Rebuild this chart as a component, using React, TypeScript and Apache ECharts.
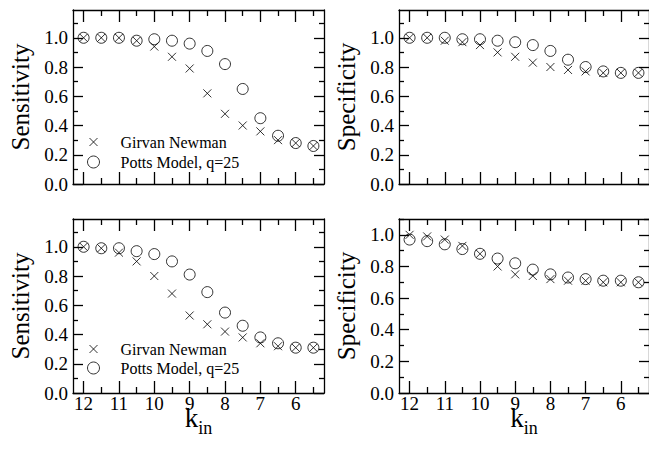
import React, { useEffect, useRef } from 'react';
import * as echarts from 'echarts';

// k_in values (x axis, reversed)
const kin = [12, 11.5, 11, 10.5, 10, 9.5, 9, 8.5, 8, 7.5, 7, 6.5, 6, 5.5];

// Top-left: Sensitivity
const sensTopGN = [1.0, 1.0, 1.0, 0.98, 0.94, 0.87, 0.79, 0.62, 0.48, 0.4, 0.36, 0.3, 0.28, 0.26];
const sensTopPotts = [1.0, 1.0, 1.0, 0.98, 0.99, 0.98, 0.96, 0.91, 0.82, 0.65, 0.45, 0.33, 0.28, 0.26];
// Top-right: Specificity
const specTopGN = [1.0, 1.0, 0.98, 0.97, 0.95, 0.9, 0.87, 0.83, 0.8, 0.78, 0.77, 0.76, 0.76, 0.76];
const specTopPotts = [1.0, 1.0, 1.0, 0.99, 0.99, 0.98, 0.97, 0.95, 0.91, 0.85, 0.8, 0.77, 0.76, 0.76];
// Bottom-left: Sensitivity
const sensBotGN = [1.0, 0.99, 0.96, 0.9, 0.8, 0.68, 0.53, 0.47, 0.42, 0.38, 0.34, 0.32, 0.31, 0.31];
const sensBotPotts = [1.0, 0.99, 0.99, 0.97, 0.95, 0.9, 0.81, 0.69, 0.55, 0.46, 0.38, 0.34, 0.31, 0.31];
// Bottom-right: Specificity
const specBotGN = [1.0, 0.99, 0.97, 0.93, 0.88, 0.8, 0.75, 0.74, 0.72, 0.71, 0.71, 0.7, 0.7, 0.7];
const specBotPotts = [0.97, 0.96, 0.94, 0.91, 0.88, 0.85, 0.82, 0.78, 0.75, 0.73, 0.72, 0.71, 0.71, 0.7];

const majorX = [12, 11, 10, 9, 8, 7, 6];
const minorX = [11.5, 10.5, 9.5, 8.5, 7.5, 6.5, 5.5];
const majorY = [0, 0.2, 0.4, 0.6, 0.8, 1.0];
const minorY = [0.1, 0.3, 0.5, 0.7, 0.9, 1.1];

const GN_NAME = 'Girvan Newman';
const POTTS_NAME = 'Potts Model, q=25';

const SERIF = "'Liberation Serif', 'Times New Roman', 'DejaVu Serif', serif";
const CROSS = 'path://M0,0L10,10M10,0L0,10';

const panels = [
  { left: 73, top: 10, ymax: 1.19, yName: 'Sensitivity', gn: sensTopGN, potts: sensTopPotts, xLabels: false },
  { left: 399, top: 10, ymax: 1.19, yName: 'Specificity', gn: specTopGN, potts: specTopPotts, xLabels: false },
  { left: 73, top: 219, ymax: 1.19, yName: 'Sensitivity', gn: sensBotGN, potts: sensBotPotts, xLabels: true },
  { left: 399, top: 219, ymax: 1.1, yName: 'Specificity', gn: specBotGN, potts: specBotPotts, xLabels: true },
];

function buildOption() {
  const grid: any[] = [];
  const xAxis: any[] = [];
  const yAxis: any[] = [];
  const series: any[] = [];
  const lineStyle = { color: '#000', width: 1.3 };

  panels.forEach((p, gi) => {
    grid.push({ left: p.left, top: p.top, width: 251, height: 174 });
    const xBase = {
      type: 'value', gridIndex: gi, min: 5.2, max: 12.3, inverse: true,
      splitLine: { show: false },
    };
    const mkX = (position: string, ticks: number[], len: number, labels: boolean, line: boolean, name?: boolean) => ({
      ...xBase,
      position,
      axisLine: { show: line, onZero: false, lineStyle },
      axisTick: { show: true, inside: true, length: len, customValues: ticks, lineStyle },
      axisLabel: labels
        ? { show: true, customValues: majorX, margin: 1, color: '#000', fontFamily: SERIF, fontSize: 19, formatter: (v: number) => String(Math.round(v)) }
        : { show: false },
      ...(name
        ? {
            name: '{k|k}{s|in}', nameLocation: 'middle', nameGap: 3, nameMoveOverlap: false,
            nameTextStyle: {
              rich: {
                k: { fontFamily: SERIF, fontSize: 27, color: '#000', lineHeight: 44 },
                s: { fontFamily: SERIF, fontSize: 18, color: '#000', lineHeight: 18, padding: [20, 0, 0, 0] },
              },
            },
          }
        : {}),
    });
    xAxis.push(mkX('bottom', majorX, 12, p.xLabels, true, p.xLabels));
    xAxis.push(mkX('bottom', minorX, 6, false, false));
    xAxis.push(mkX('top', majorX, 12, false, true));
    xAxis.push(mkX('top', minorX, 6, false, false));

    const yBase = { type: 'value', gridIndex: gi, min: 0, max: p.ymax, splitLine: { show: false } };
    const mkY = (position: string, ticks: number[], len: number, labels: boolean, line: boolean, name?: boolean) => ({
      ...yBase,
      position,
      axisLine: { show: line, onZero: false, lineStyle },
      axisTick: { show: true, inside: true, length: len, customValues: ticks, lineStyle },
      axisLabel: labels
        ? { show: true, customValues: majorY, margin: 5, color: '#000', fontFamily: SERIF, fontSize: 19, formatter: (v: number) => v.toFixed(1) }
        : { show: false },
      ...(name
        ? {
            name: p.yName, nameLocation: 'middle', nameGap: 40, nameMoveOverlap: false,
            nameTextStyle: { fontFamily: SERIF, fontSize: 25, color: '#000' },
          }
        : {}),
    });
    yAxis.push(mkY('left', majorY, 10, true, true, true));
    yAxis.push(mkY('left', minorY, 5, false, false));
    yAxis.push(mkY('right', majorY, 10, false, true));
    yAxis.push(mkY('right', minorY, 5, false, false));

    series.push({
      type: 'scatter', name: GN_NAME, xAxisIndex: gi * 4, yAxisIndex: gi * 4,
      symbol: CROSS, symbolSize: 8, symbolKeepAspect: true,
      itemStyle: { color: 'none', borderColor: '#000', borderWidth: 1 },
      data: kin.map((k, i) => [k, p.gn[i]]),
    });
    series.push({
      type: 'scatter', name: POTTS_NAME, xAxisIndex: gi * 4, yAxisIndex: gi * 4,
      symbol: 'circle', symbolSize: 11,
      itemStyle: { color: 'rgba(0,0,0,0)', borderColor: '#000', borderWidth: 1 },
      data: kin.map((k, i) => [k, p.potts[i]]),
    });
  });

  const legendText = { fontFamily: SERIF, fontSize: 16, color: '#000' };
  const mkLegend = (name: string, top: number, h: number) => ({
    left: 87, top, padding: 0, orient: 'vertical', selectedMode: false,
    itemWidth: 44, itemHeight: h, textStyle: legendText,
    itemStyle: { borderWidth: 1, borderColor: '#000' },
    data: [{ name }],
  });

  return {
    animation: false,
    backgroundColor: '#fff',
    grid,
    xAxis,
    yAxis,
    series,
    legend: [
      mkLegend(GN_NAME, 134, 8),
      mkLegend(POTTS_NAME, 154, 12),
      mkLegend(GN_NAME, 341, 8),
      mkLegend(POTTS_NAME, 360, 12),
    ],
  };
}

export default function App() {
  const ref = useRef<HTMLDivElement>(null);
  useEffect(() => {
    if (!ref.current) return;
    const chart = echarts.init(ref.current, undefined, { renderer: 'svg' });
    chart.setOption(buildOption() as any);
    return () => chart.dispose();
  }, []);
  return (
    <div
      ref={ref}
      style={{ position: 'fixed', left: 0, top: 0, width: 649, height: 450, background: '#fff' }}
    />
  );
}
